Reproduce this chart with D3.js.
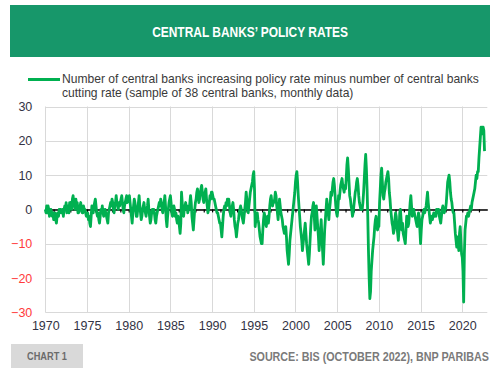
<!DOCTYPE html>
<html><head><meta charset="utf-8">
<script src="https://cdn.jsdelivr.net/npm/d3@7/dist/d3.min.js"></script>
<style>body{margin:0;background:#fff}svg{display:block}</style>
</head><body>
<svg id="c" width="504" height="368"></svg>
<script>
const title = "CENTRAL BANKS’ POLICY RATES";
const legendLines = [
  "Number of central banks increasing policy rate minus number of central banks",
  "cutting rate (sample of 38 central banks, monthly data)"
];
const chartLabel = "CHART 1";
const sourceText = "SOURCE: BIS (OCTOBER 2022), BNP PARIBAS";
const xTicks = [1970, 1975, 1980, 1985, 1990, 1995, 2000, 2005, 2010, 2015, 2020];
const yTicks = [-30, -20, -10, 0, 10, 20, 30];
const startYear = 1970;
// monthly values, one row per year (Jan..Dec), last row ends Sep 2022
const netHikes = [
  0,-1,1,-1,1,0,-2,-1,0,-1,-2,-1,
  -3,-2,-1,-3,-4,-2,-1,-2,0,-1,0,-1,
  -1,0,-2,0,1,0,2,-1,0,1,-1,2,
  1,2,0,3,4,2,1,0,3,1,2,-1,
  -1,0,1,2,0,-1,-1,1,0,0,-1,-2,
  -2,-1,-3,-2,-4,-5,-2,1,0,-1,1,2,
  3,1,-1,-2,-1,-3,-4,-2,0,-1,1,-1,
  -2,-1,0,-1,-2,-3,-4,-1,0,1,2,1,
  3,2,0,-1,1,2,4,2,1,0,2,1,
  2,3,4,2,0,-1,1,2,3,4,2,3,
  3,4,2,0,-2,-4,-1,1,3,2,0,-2,
  -2,0,2,4,1,-1,-3,-2,0,1,2,0,
  -1,-2,0,1,3,0,-2,-4,-3,-1,0,-1,
  0,-1,-3,-4,-2,-1,0,1,2,1,3,2,
  0,-1,1,2,4,1,-3,-5,-2,0,2,3,
  4,2,-1,-2,0,1,0,-2,-1,-3,-4,-2,
  -3,-5,-7,-4,5,2,-1,-2,0,1,2,0,
  1,-1,0,0,2,4,2,-2,-4,-6,-3,0,
  2,3,5,6,4,2,3,5,6,7,5,3,
  2,4,5,6,3,1,-1,0,2,4,3,5,
  5,4,3,3,2,1,0,-1,-1,-2,-3,-4,
  -4,-6,-8,-5,-2,0,1,0,2,1,3,2,
  3,1,-1,-2,0,1,2,0,-3,-5,-6,-8,
  -6,-4,-3,-1,0,1,0,-2,-3,-4,-2,0,
  2,5,3,0,-1,1,3,5,6,7,8,10,
  11,6,-5,-3,-2,-1,-3,-4,-6,-8,-9,-10,
  -10,-6,-3,-1,-2,-4,-5,-3,-2,-4,-2,1,
  3,4,2,1,2,2,3,5,4,1,-1,-3,
  0,3,1,-1,-2,-3,-5,-6,-7,-6,-5,-8,
  -12,-14,-16,-13,-9,-7,-5,-3,-1,1,3,5,
  8,10,11,8,4,1,-2,-5,-7,-9,-12,-10,
  -8,-6,-4,-7,-10,-12,-14,-16,-13,-9,-5,-2,
  -1,1,2,-2,-6,-3,1,-2,-5,-8,-12,-9,
  -6,-3,-8,-12,-16,-11,-6,-3,0,3,1,-1,
  -3,0,2,5,4,6,8,9,7,4,1,-1,
  -2,0,4,3,5,7,8,9,7,6,5,7,
  6,9,13,15,12,8,4,3,1,0,-2,-1,
  1,3,5,6,8,9,7,4,2,1,0,1,
  0,2,5,9,13,16,12,6,-2,-12,-20,-26,
  -24,-18,-15,-12,-10,-8,-5,-3,-2,-4,-6,-5,
  -5,2,6,10,12,8,4,3,5,6,8,9,
  10,11,9,5,3,0,-2,-4,-5,-7,-6,-3,
  -1,-2,-5,-7,-9,-6,-1,0,-3,-6,-4,-7,
  -8,-9,-10,-6,-2,-3,-5,-4,-1,2,4,1,
  -2,-1,0,-1,-2,-3,-4,-5,-3,-1,-2,-6,
  -10,-6,-3,-2,-1,0,-1,0,1,3,5,2,
  0,-2,-4,-3,-2,-3,-2,-1,-2,-1,-2,0,
  0,-1,0,-2,-3,-4,-2,0,1,0,-1,0,
  0,2,5,8,9,10,8,5,3,2,0,-1,
  -1,-4,-7,-9,-11,-8,-10,-12,-7,-5,-9,-13,
  -14,-18,-27,-13,-6,-4,-2,-2,-1,-2,-1,0,
  1,0,2,3,4,5,6,8,10,9,11,11,
  15,18,21,24,22,24,24,23,17
];

const data = netHikes.map((v, i) => ({t: startYear + i / 12, v}));

const svg = d3.select("#c");
const green = "#00b050";
const tickFont = "'Liberation Sans', Arial, sans-serif";

const x = d3.scaleLinear().domain([1970, 2023]).range([45.3, 487.3]);
const y = d3.scaleLinear().domain([-30, 30]).range([312.3, 106.5]);

// place a text horizontally condensed to a target width (keeps glyph height)
function fitText(parent, str, px, py, target, anchor, attrs) {
  const g = parent.append("g");
  const t = g.append("text").attr("x", 0).attr("y", 0).attr("text-anchor", anchor).text(str);
  Object.entries(attrs).forEach(([k, v]) => t.attr(k, v));
  const w = t.node().getComputedTextLength();
  const s = Math.min(1, target / w);
  g.attr("transform", `translate(${px},${py}) scale(${s},1)`);
  return t;
}

// Title banner
svg.append("rect").attr("x", 10).attr("y", 5).attr("width", 480).attr("height", 52).attr("fill", "#17976a");
fitText(svg, title, 250, 36.5, 196, "middle",
  {"fill": "#ffffff", "font-family": tickFont, "font-weight": "bold", "font-size": 15});

// Legend (one text block, two lines)
svg.append("line").attr("x1", 28).attr("x2", 60).attr("y1", 79.5).attr("y2", 79.5)
  .attr("stroke", green).attr("stroke-width", 3);
const lg = svg.append("g");
const lt = lg.append("text").attr("font-family", tickFont).attr("font-size", 12.4).attr("fill", "#3a3a3a");
lt.selectAll("tspan").data(legendLines).join("tspan")
  .attr("x", 0).attr("y", (d, i) => i * 14).text(d => d);
const l1w = lt.select("tspan").node().getComputedTextLength();
lg.attr("transform", `translate(62,83) scale(${Math.min(1, 417 / l1w)},1)`);

// Grid
const grid = svg.append("g").attr("stroke", "#d9d9d9").attr("stroke-width", 1);
grid.selectAll("line.h").data(yTicks).join("line").attr("class", "h")
  .attr("x1", x(1970)).attr("x2", x(2023)).attr("y1", d => Math.round(y(d)) + 0.5).attr("y2", d => Math.round(y(d)) + 0.5);
grid.selectAll("line.v").data(xTicks).join("line").attr("class", "v")
  .attr("x1", d => Math.round(x(d)) + 0.5).attr("x2", d => Math.round(x(d)) + 0.5)
  .attr("y1", y(30)).attr("y2", y(-30));

// Zero axis with yearly ticks
const zeroAxis = svg.append("g").attr("transform", `translate(0,${y(0)})`)
  .call(d3.axisBottom(x).tickValues(d3.range(1970, 2023)).tickSize(3).tickSizeOuter(0).tickFormat(""));
zeroAxis.select(".domain").attr("stroke", "#000").attr("stroke-width", 1.5);
zeroAxis.selectAll(".tick line").attr("stroke", "#000").attr("stroke-width", 1.2);

// Series
svg.append("path").datum(data)
  .attr("fill", "none").attr("stroke", green).attr("stroke-width", 2.8)
  .attr("stroke-linejoin", "round")
  .attr("d", d3.line().x(d => x(d.t)).y(d => y(d.v)));

// X labels
const xa = svg.append("g").attr("transform", `translate(0,${y(-30)})`)
  .call(d3.axisBottom(x).tickValues(xTicks).tickSize(0).tickPadding(9).tickFormat(d3.format("d")));
xa.select(".domain").remove();
xa.selectAll("text").attr("font-family", tickFont).attr("font-size", 12.5).attr("fill", "#333344");

// Y labels
const ya = svg.append("g").attr("transform", `translate(${x(1970)},0)`)
  .call(d3.axisLeft(y).tickValues(yTicks).tickSize(0).tickPadding(13));
ya.select(".domain").remove();
ya.selectAll("text").attr("font-family", tickFont).attr("font-size", 12.5)
  .attr("fill", d => d < 0 ? "#ff3b3b" : "#333344");

// Footer
svg.append("rect").attr("x", 11).attr("y", 344).attr("width", 72).attr("height", 24).attr("fill", "#d9d9d9");
fitText(svg, chartLabel, 47, 359.5, 40, "middle",
  {"font-family": tickFont, "font-weight": "bold", "font-size": 11, "fill": "#6b6b6b"});
fitText(svg, sourceText, 489, 361, 240, "end",
  {"font-family": tickFont, "font-weight": "bold", "font-size": 13, "fill": "#7a7a7a"});
</script>
</body></html>
